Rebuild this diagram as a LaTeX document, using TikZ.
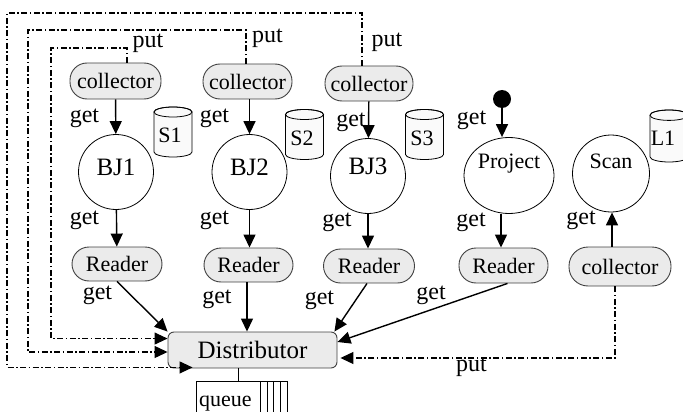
\documentclass[tikz,border=0pt]{standalone}
\usepackage{fontspec}
\setmainfont{Liberation Serif}
\usetikzlibrary{arrows.meta,calc,shapes.geometric}
\definecolor{nodefill}{HTML}{EBEBEB}
\definecolor{nodeline}{HTML}{404040}
\definecolor{cylfill}{HTML}{FAFAFA}
\begin{document}
\begin{tikzpicture}[x=1pt,y=-1pt,
 proc/.style={draw=nodeline,fill=nodefill,rounded corners=17pt,inner sep=0pt,font=\fontsize{22}{25}\selectfont,line width=0.9pt},
 op/.style={draw,circle,inner sep=0pt,minimum size=75pt,line width=0.8pt},
 lbl/.style={inner sep=0pt,font=\fontsize{24}{28}\selectfont},
 txt/.style={inner sep=0pt,font=\fontsize{22}{25}\selectfont},
 arr/.style={line width=1.4pt,-{Triangle[length=13pt,width=12pt]}},
 putl/.style={line width=1.1pt,dash pattern=on 6pt off 2.5pt on 1.5pt off 2.5pt,-{Triangle[length=13pt,width=12pt]}},
 cyl/.pic={\path[draw,fill=cylfill,line width=0.8pt] (-19,-20) -- (-19,20) arc (180:0:19 and 5) -- (19,-20) arc (0:-180:19 and 5) -- cycle;
           \draw[line width=0.8pt] (0,-20) ellipse (19 and 5);},
]
\useasboundingbox (0,0) rectangle (683,412);
\clip (0,0) rectangle (683,412);

% top collectors
\node[proc,minimum width=91pt,minimum height=36pt] (colA) at (115.5,81) {collector};
\node[proc,minimum width=89pt,minimum height=35pt] (colB) at (247.5,81.5) {collector};
\node[proc,minimum width=88pt,minimum height=35pt] (colC) at (369,83.5) {collector};

% operators
\node[op] (bj1) at (116,172) {};
\node[txt,font=\fontsize{25}{29}\selectfont] (bj1t) at ($(bj1.center)+(0,-5)$) {BJ1};
\node[op] (bj2) at (249.5,172) {};
\node[txt,font=\fontsize{25}{29}\selectfont] (bj2t) at ($(bj2.center)+(0,-5)$) {BJ2};
\node[op] (bj3) at (368,176) {};
\node[txt,font=\fontsize{25}{29}\selectfont] (bj3t) at ($(bj3.center)+(0,-10)$) {BJ3};
\node[draw,ellipse,inner sep=0pt,minimum width=90pt,minimum height=76pt,line width=0.8pt] (proj) at (509,175.5) {};
\node[txt] (projt) at ($(proj.center)+(0,-12)$) {Project};
\node[op,minimum size=77pt] (scan) at (611,173.5) {};
\node[txt] (scant) at ($(scan.center)+(0,-12)$) {Scan};

% cylinders
\pic at (173,132) {cyl};
\node[txt] (s1) at (170,135) {S1};
\pic at (304.5,134.5) {cyl};
\node[txt] (s2) at (302,138) {S2};
\pic at (424.5,134.5) {cyl};
\node[txt] (s3) at (422,138) {S3};
\pic[yscale=1.04] at (669,136) {cyl};
\node[txt] (l1) at (663,138) {L1};

% source dot
\node[circle,fill=black,inner sep=0pt,minimum size=18pt] (dot) at (502,99) {};

% readers
\node[proc,minimum width=90pt,minimum height=34pt] (r1) at (117,264) {Reader};
\node[proc,minimum width=89pt,minimum height=34pt] (r2) at (248.5,265) {Reader};
\node[proc,minimum width=91pt,minimum height=34pt] (r3) at (369,266) {Reader};
\node[proc,minimum width=89pt,minimum height=35pt] (r4) at (503.5,265.5) {Reader};
\node[proc,minimum width=102pt,minimum height=39pt,rounded corners=19pt] (colD) at (620,266.5) {collector};

% distributor
\node[proc,rounded corners=6pt,minimum width=169pt,minimum height=36pt,font=\fontsize{25}{29}\selectfont] (dist) at (252.5,350) {Distributor};

% queue
\coordinate (qtop) at ($(dist.south)+(-14.5,13)$);
\draw[line width=0.9pt] (dist.south -| qtop) -- (qtop);
\draw[line width=0.8pt] (196,412) |- (287,381) -- (287,412);
\foreach \qx in {260,267,273,280} \draw[line width=0.8pt] (\qx,381) -- (\qx,412);
\node[txt,anchor=base west] (queue) at (199,406) {queue};

% get arrows (top)
\draw[arr] (colA) -- (bj1);
\draw[arr] (colB.south -| bj2) -- (bj2);
\draw[arr] (colC) -- (bj3);
\draw[arr] (dot.south) -- (dot.south |- proj.north);
\node[lbl] (g1) at (84.5,118) {get};
\node[lbl] (g2) at (214.5,118) {get};
\node[lbl] (g3) at (351,122) {get};
\node[lbl] (g4) at (471.5,120) {get};

% get arrows (middle)
\draw[arr] (bj1) -- (r1);
\draw[arr] (bj2.south) -- (bj2.south |- r2.north);
\draw[arr] (bj3) -- (bj3 |- r3.north);
\draw[arr] (proj.south -| 501,0) -- (r4.north -| 501,0);
\draw[arr] (colD.north -| 612,0) -- (scan.south -| 612,0);
\node[lbl] (g5) at (84.5,220) {get};
\node[lbl] (g6) at (214.5,220) {get};
\node[lbl] (g7) at (337,222) {get};
\node[lbl] (g8) at (471,222) {get};
\node[lbl] (g9) at (581,220) {get};

% readers to distributor
\draw[arr] (r1.south) -- (dist.north west);
\draw[arr] (r2.south -| 247,0) -- (dist.north -| 247,0);
\draw[arr] ($(r3.south)+(-2,0)$) -- ($(dist.north east)+(-3,0)$);
\draw[arr] ($(r4.south)+(4,0)$) -- ($(dist.east)+(0,-8)$);
\node[lbl] (g10) at (97.5,295) {get};
\node[lbl] (g11) at (217,299) {get};
\node[lbl] (g12) at (319.5,300) {get};
\node[lbl] (g13) at (431,295) {get};

% put lines
\draw[putl] ($(colA.north)+(11.5,0)$) |- (51,48) |- ($(dist.north west)+(0,7)$);
\draw[putl] ($(colB.north)+(-1.5,0)$) |- (28,30) |- ($(dist.west)+(0,2)$);
\draw[putl] ($(colC.north)+(-7,0)$) |- (7,13) |- ($(dist.south west)+(25,-1)$);
\draw[putl] ($(colD.south)+(-5,0)$) |- ($(dist.east)+(3,8)$);
\node[lbl] (p1) at (148,43) {put};
\node[lbl] (p2) at (267.5,38) {put};
\node[lbl] (p3) at (387,42) {put};
\node[lbl] (p4) at (471.5,367) {put};
\end{tikzpicture}
\end{document}
